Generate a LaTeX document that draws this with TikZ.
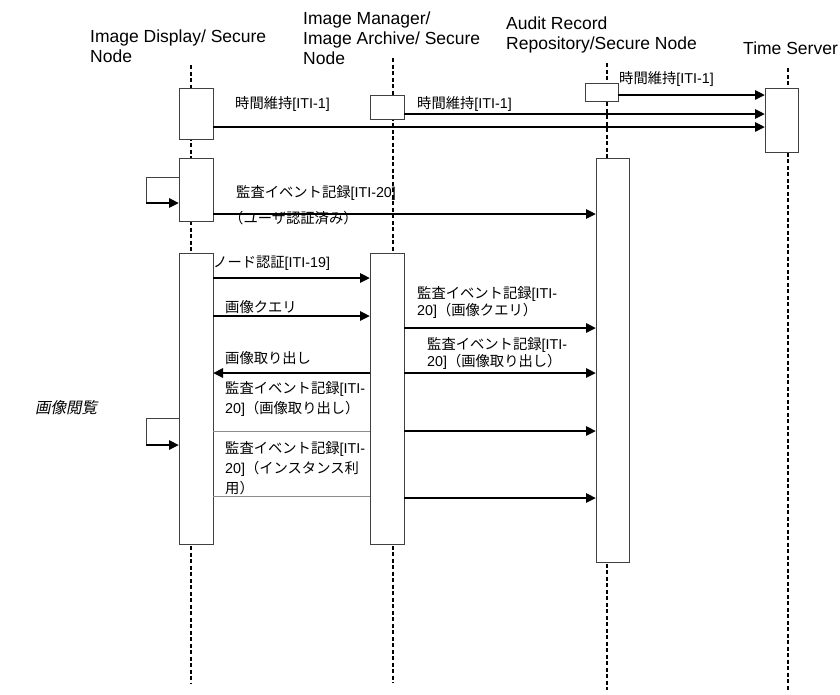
\documentclass[tikz,border=0pt]{standalone}
\usepackage{fontspec}
\setmainfont{Liberation Sans}
\newfontfamily\jp{Noto Sans CJK JP}
\newfontfamily\jpit{Noto Sans CJK JP}[FakeSlant=0.2]
\usetikzlibrary{arrows.meta}
\newcommand\jt[1]{{\jp #1}}
\begin{document}
\begin{tikzpicture}[x=1pt,y=-1pt,
  hdr/.style={anchor=north west, inner sep=0, align=left, font=\fontsize{17.5}{20}\selectfont},
  lbl/.style={anchor=west, inner sep=0, font=\fontsize{14.3}{18}\selectfont},
  mlbl/.style={anchor=north west, inner sep=0, align=left, font=\fontsize{14.3}{17}\selectfont},
  mlblw/.style={anchor=north west, inner sep=0, align=left, font=\fontsize{14.3}{20}\selectfont},
  life/.style={line width=1.8pt, dash pattern=on 4pt off 2.5pt},
  act/.style={draw=black!75, line width=1pt, fill=white, inner sep=0, outer sep=0, anchor=north west},
  msg/.style={line width=2.8pt, -{Triangle[length=10pt,width=9pt]}},
  thinln/.style={line width=0.9pt, draw=black!75},
  sepln/.style={line width=0.9pt, draw=black!45}]
\useasboundingbox (0,0) rectangle (840,694);
% headers
\node[hdr] (hd1) at (90,30) {Image Display/ Secure\\Node};
\node[hdr] (hd2) at (303,12) {Image Manager/\\Image Archive/ Secure\\Node};
\node[hdr] (hd3) at (506,17) {Audit Record\\Repository/Secure Node};
\node[hdr] (hd4) at (743,42) {Time Server};
% lifelines
\coordinate (l1t) at (191,65);  \coordinate (l1b) at (191,683);
\coordinate (l2t) at (393,58);  \coordinate (l2b) at (393,683);
\coordinate (l3t) at (607,63);  \coordinate (l3b) at (607,690);
\coordinate (l4t) at (788,68);  \coordinate (l4b) at (788,690);
\draw[life] (l1t) -- (l1b);
\draw[life] (l2t) -- (l2b);
\draw[life] (l3t) -- (l3b);
\draw[life] (l4t) -- (l4b);
% activation boxes
\node[act, minimum width=34pt, minimum height=51pt] (d1) at (179,88) {};
\node[act, minimum width=34pt, minimum height=63pt] (d2) at (179,158) {};
\node[act, minimum width=34pt, minimum height=291pt] (d3) at (179,253) {};
\node[act, minimum width=34pt, minimum height=24pt] (m1) at (370,95) {};
\node[act, minimum width=34pt, minimum height=291pt] (m2) at (370,253) {};
\node[act, minimum width=33pt, minimum height=18pt] (a1) at (585,83) {};
\node[act, minimum width=33pt, minimum height=404pt] (a2) at (596,158) {};
\node[act, minimum width=33pt, minimum height=64pt] (t1) at (765,88) {};
% time sync
\draw[msg] (a1.east |- 0,95) -- (t1.west |- 0,95);
\draw[msg] (m1.east |- 0,114) -- (t1.west |- 0,114);
\draw[msg] (d1.east |- 0,127) -- (t1.west |- 0,127);
\node[lbl] (tl1) at (235,104) {\jt{時間維持}[ITI-1]};
\node[lbl] (tl2) at (417,104) {\jt{時間維持}[ITI-1]};
\node[lbl] (tl3) at (619,79) {\jt{時間維持}[ITI-1]};
% user auth
\coordinate (s1a) at (146,177); \coordinate (s1b) at (146,203);
\draw[thinln] (d2.west |- s1a) -- (s1a) -- (s1b);
\draw[msg] (s1b) -- (d2.west |- s1b);
\draw[msg] (d2.east |- 0,214) -- (a2.west |- 0,214);
\node[lbl] (ua1) at (236,193) {\jt{監査イベント記録}[ITI-20]};
\node[lbl] (ua2) at (229,218) {\jt{（ユーザ認証済み）}};
% image viewing
\draw[msg] (d3.east |- 0,278) -- (m2.west |- 0,278);
\node[lbl] (na) at (213,263) {\jt{ノード認証}[ITI-19]};
\draw[msg] (d3.east |- 0,316) -- (m2.west |- 0,316);
\node[lbl] (iq) at (225,307) {\jt{画像クエリ}};
\draw[msg] (m2.east |- 0,328) -- (a2.west |- 0,328);
\node[mlbl] (aq) at (417,286) {\jt{監査イベント記録}[ITI-\\20]\jt{（画像クエリ）}};
\draw[msg] (m2.west |- 0,373) -- (d3.east |- 0,373);
\node[lbl] (ir) at (225,358) {\jt{画像取り出し}};
\draw[msg] (m2.east |- 0,373) -- (a2.west |- 0,373);
\node[mlbl] (ar) at (427,337) {\jt{監査イベント記録}[ITI-\\20]\jt{（画像取り出し）}};
\coordinate (s2a) at (146,418); \coordinate (s2b) at (146,445);
\draw[thinln] (d3.west |- s2a) -- (s2a) -- (s2b);
\draw[msg] (s2b) -- (d3.west |- s2b);
\node[mlblw] (dr) at (225,381) {\jt{監査イベント記録}[ITI-\\20]\jt{（画像取り出し）}};
\draw[sepln] (d3.east |- 0,431) -- (m2.west |- 0,431);
\draw[msg] (m2.east |- 0,431) -- (a2.west |- 0,431);
\node[mlblw] (du) at (225,441) {\jt{監査イベント記録}[ITI-\\20]\jt{（インスタンス利}\\\jt{用）}};
\draw[sepln] (d3.east |- 0,496) -- (m2.west |- 0,496);
\draw[msg] (m2.east |- 0,498) -- (a2.west |- 0,498);
\node[anchor=west, inner sep=0, font=\fontsize{15.5}{18}\selectfont] (iv) at (35,408) {\jpit 画像閲覧};
\end{tikzpicture}
\end{document}
